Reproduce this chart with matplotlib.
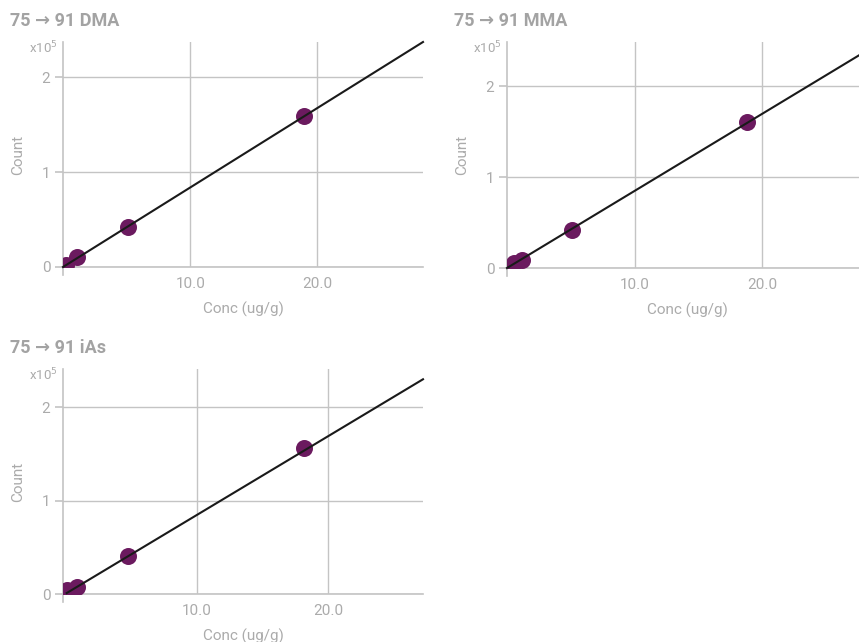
import matplotlib
matplotlib.use("Agg")
import matplotlib.pyplot as plt

plt.rcParams['font.family'] = ['Roboto', 'DejaVu Sans']

titles = ["75 \u2192 91 DMA", "75 \u2192 91 MMA", "75 \u2192 91 iAs"]

# concentrations (ug/g) and counts (x1e5)
dma_x = [0.25, 1.07, 5.08, 18.96]
dma_y = [0.02, 0.105, 0.424, 1.59]
mma_x = [0.57, 1.2, 5.12, 18.8]
mma_y = [0.05, 0.093, 0.416, 1.607]
ias_x = [0.13, 0.89, 4.78, 18.15]
ias_y = [0.04, 0.07, 0.406, 1.56]

# calibration line endpoints (x, y)
dma_fit_x = [0.0, 28.3]
dma_fit_y = [0.0, 2.37]
mma_fit_x = [0.0, 28.3]
mma_fit_y = [0.0, 2.405]
ias_fit_x = [0.13, 27.2]
ias_fit_y = [0.01, 2.30]

xlims = [(0, 28.3), (0, 28.2), (-0.15, 27.2)]
ylims = [(0, 2.37), (0, 2.49), (0, 2.41)]

xticks = [10, 20]
xticklabels = ["10.0", "20.0"]
yticks = [0, 1, 2]
yticklabels = ["0", "1", "2"]

positions = [
    [63/859, 1-267/642, 360/859, 225/642],
    [507/859, 1-268/642, 360/859, 226/642],
    [63/859, 1-594/642, 360/859, 225/642],
]

data = [
    (dma_x, dma_y, dma_fit_x, dma_fit_y),
    (mma_x, mma_y, mma_fit_x, mma_fit_y),
    (ias_x, ias_y, ias_fit_x, ias_fit_y),
]

grid_c = "#c4c4c4"
text_c = "#ababab"
mark_c = "#6b1a5f"

fig = plt.figure(figsize=(8.59, 6.42), dpi=100)

for i, (pos, (x, y, fx, fy)) in enumerate(zip(positions, data)):
    ax = fig.add_axes(pos)
    ax.set_xlim(*xlims[i])
    ax.set_ylim(*ylims[i])
    for s in ["top", "right"]:
        ax.spines[s].set_visible(False)
    for s in ["left", "bottom"]:
        ax.spines[s].set_color(grid_c)
        ax.spines[s].set_linewidth(1.2)
    ax.set_xticks(xticks)
    ax.set_xticklabels(xticklabels)
    ax.set_yticks(yticks)
    ax.set_yticklabels(yticklabels)
    ax.tick_params(axis='x', length=0, pad=7, labelsize=11, labelcolor=text_c)
    ax.tick_params(axis='y', length=6, width=1.2, color=grid_c, pad=3,
                   labelsize=11, labelcolor=text_c)
    ax.grid(True, color=grid_c, linewidth=1.0)
    ax.set_axisbelow(True)
    # small stub of y-axis below the x-axis
    ax.plot([0, 0], [0, -0.035], transform=ax.transAxes, color=grid_c,
            linewidth=1.2, clip_on=False)
    ax.scatter(x, y, s=150, color=mark_c, zorder=3, clip_on=True, linewidths=0)
    ax.plot(fx, fy, color="#1a1a1a", linewidth=1.5, zorder=4, clip_on=False)
    ax.set_xlabel("Conc (ug/g)", color=text_c, fontsize=11, labelpad=8)
    ax.set_ylabel("Count", color=text_c, fontsize=11, labelpad=12)
    ax.text(-0.015, 0.975, "x10$^5$", transform=ax.transAxes, ha='right', va='center',
            color=text_c, fontsize=9.5)
    left_px = pos[0] * 859
    top_px = (pos[1] + pos[3]) * 642
    fig.text((left_px - 53) / 859, (top_px + 21) / 642, titles[i], fontsize=13,
             fontweight='bold', color="#a3a3a3", va='center', ha='left')

fig.savefig("out.png", dpi=100)
